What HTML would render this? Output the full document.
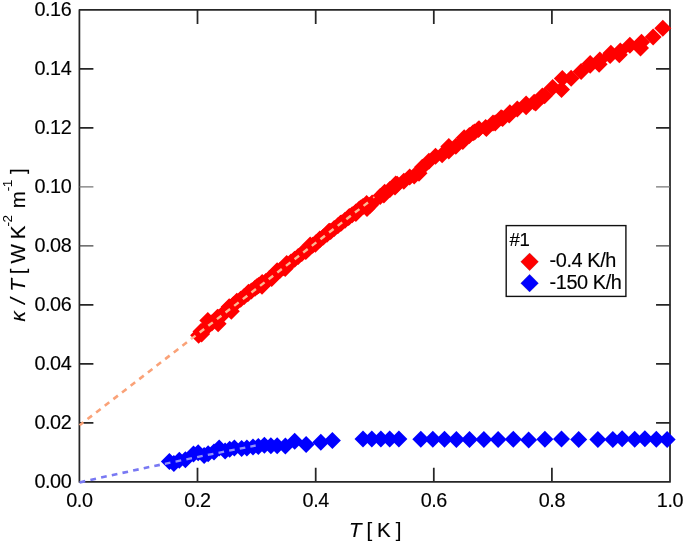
<!DOCTYPE html>
<html><head><meta charset="utf-8"><title>plot</title>
<style>html,body{margin:0;padding:0;background:#fff;}body{width:685px;height:543px;position:relative;overflow:hidden}svg text{font-family:"Liberation Sans",sans-serif;}</style>
</head><body>
<svg width="685" height="543" viewBox="0 0 685 543" style="display:block;position:absolute;left:0;top:0">
<rect width="685" height="543" fill="#fff"/>
<g stroke="#262626" stroke-width="1.75" stroke-linejoin="round" fill="none">
<rect x="79.4" y="9.9" width="590.6" height="472.0"/>
<path d="M197.5 481.85V467.85M197.5 9.9V23.9"/>
<path d="M315.7 481.85V467.85M315.7 9.9V23.9"/>
<path d="M433.8 481.85V467.85M433.8 9.9V23.9"/>
<path d="M551.9 481.85V467.85M551.9 9.9V23.9"/>
<path d="M79.4 422.9H93.4M670.05 422.9H656.05"/>
<path d="M79.4 363.9H93.4M670.05 363.9H656.05"/>
<path d="M79.4 304.9H93.4M670.05 304.9H656.05"/>
<path d="M79.4 245.9H93.4M670.05 245.9H656.05" stroke="#444" stroke-width="1.4"/>
<path d="M79.4 186.9H93.4M670.05 186.9H656.05" stroke="#777" stroke-width="1.1"/>
<path d="M79.4 127.9H93.4M670.05 127.9H656.05"/>
<path d="M79.4 68.9H93.4M670.05 68.9H656.05"/>
</g>
<g>
<path d="M192.5 331.5L201.0 323.0L209.5 331.5L201.0 340.0Z" fill="#ff0000"/>
<path d="M196.1 328.7L204.6 320.2L213.1 328.7L204.6 337.2Z" fill="#ff0000"/>
<path d="M199.7 325.9L208.2 317.4L216.7 325.9L208.2 334.4Z" fill="#ff0000"/>
<path d="M203.3 323.1L211.8 314.6L220.3 323.1L211.8 331.6Z" fill="#ff0000"/>
<path d="M206.9 320.3L215.4 311.8L223.9 320.3L215.4 328.8Z" fill="#ff0000"/>
<path d="M210.5 317.6L219.0 309.1L227.5 317.6L219.0 326.1Z" fill="#ff0000"/>
<path d="M214.1 314.8L222.6 306.3L231.1 314.8L222.6 323.3Z" fill="#ff0000"/>
<path d="M217.7 310.4L226.2 301.9L234.7 310.4L226.2 318.9Z" fill="#ff0000"/>
<path d="M221.3 307.6L229.8 299.1L238.3 307.6L229.8 316.1Z" fill="#ff0000"/>
<path d="M224.9 304.8L233.4 296.3L241.9 304.8L233.4 313.3Z" fill="#ff0000"/>
<path d="M228.5 302.1L237.0 293.6L245.5 302.1L237.0 310.6Z" fill="#ff0000"/>
<path d="M232.1 299.3L240.6 290.8L249.1 299.3L240.6 307.8Z" fill="#ff0000"/>
<path d="M235.7 296.5L244.2 288.0L252.7 296.5L244.2 305.0Z" fill="#ff0000"/>
<path d="M239.3 293.7L247.8 285.2L256.3 293.7L247.8 302.2Z" fill="#ff0000"/>
<path d="M242.9 290.9L251.4 282.4L259.9 290.9L251.4 299.4Z" fill="#ff0000"/>
<path d="M246.5 288.2L255.0 279.7L263.5 288.2L255.0 296.7Z" fill="#ff0000"/>
<path d="M250.1 285.4L258.6 276.9L267.1 285.4L258.6 293.9Z" fill="#ff0000"/>
<path d="M253.7 282.6L262.2 274.1L270.7 282.6L262.2 291.1Z" fill="#ff0000"/>
<path d="M257.3 281.4L265.8 272.9L274.3 281.4L265.8 289.9Z" fill="#ff0000"/>
<path d="M260.9 278.6L269.4 270.1L277.9 278.6L269.4 287.1Z" fill="#ff0000"/>
<path d="M264.5 275.9L273.0 267.4L281.5 275.9L273.0 284.4Z" fill="#ff0000"/>
<path d="M268.1 273.1L276.6 264.6L285.1 273.1L276.6 281.6Z" fill="#ff0000"/>
<path d="M271.7 270.3L280.2 261.8L288.7 270.3L280.2 278.8Z" fill="#ff0000"/>
<path d="M275.3 267.5L283.8 259.0L292.3 267.5L283.8 276.0Z" fill="#ff0000"/>
<path d="M278.9 264.7L287.4 256.2L295.9 264.7L287.4 273.2Z" fill="#ff0000"/>
<path d="M282.5 262.0L291.0 253.5L299.5 262.0L291.0 270.5Z" fill="#ff0000"/>
<path d="M286.1 259.2L294.6 250.7L303.1 259.2L294.6 267.7Z" fill="#ff0000"/>
<path d="M289.7 256.4L298.2 247.9L306.7 256.4L298.2 264.9Z" fill="#ff0000"/>
<path d="M293.3 253.6L301.8 245.1L310.3 253.6L301.8 262.1Z" fill="#ff0000"/>
<path d="M296.9 250.8L305.4 242.3L313.9 250.8L305.4 259.3Z" fill="#ff0000"/>
<path d="M300.5 248.1L309.0 239.6L317.5 248.1L309.0 256.6Z" fill="#ff0000"/>
<path d="M304.1 245.3L312.6 236.8L321.1 245.3L312.6 253.8Z" fill="#ff0000"/>
<path d="M307.7 242.5L316.2 234.0L324.7 242.5L316.2 251.0Z" fill="#ff0000"/>
<path d="M311.3 239.7L319.8 231.2L328.3 239.7L319.8 248.2Z" fill="#ff0000"/>
<path d="M314.9 236.9L323.4 228.4L331.9 236.9L323.4 245.4Z" fill="#ff0000"/>
<path d="M318.5 234.2L327.0 225.7L335.5 234.2L327.0 242.7Z" fill="#ff0000"/>
<path d="M322.1 231.4L330.6 222.9L339.1 231.4L330.6 239.9Z" fill="#ff0000"/>
<path d="M325.7 228.6L334.2 220.1L342.7 228.6L334.2 237.1Z" fill="#ff0000"/>
<path d="M329.3 225.8L337.8 217.3L346.3 225.8L337.8 234.3Z" fill="#ff0000"/>
<path d="M332.9 223.0L341.4 214.5L349.9 223.0L341.4 231.5Z" fill="#ff0000"/>
<path d="M336.5 220.3L345.0 211.8L353.5 220.3L345.0 228.8Z" fill="#ff0000"/>
<path d="M340.1 217.5L348.6 209.0L357.1 217.5L348.6 226.0Z" fill="#ff0000"/>
<path d="M343.7 214.7L352.2 206.2L360.7 214.7L352.2 223.2Z" fill="#ff0000"/>
<path d="M347.3 211.9L355.8 203.4L364.3 211.9L355.8 220.4Z" fill="#ff0000"/>
<path d="M350.9 209.1L359.4 200.6L367.9 209.1L359.4 217.6Z" fill="#ff0000"/>
<path d="M354.5 206.4L363.0 197.9L371.5 206.4L363.0 214.9Z" fill="#ff0000"/>
<path d="M358.1 203.6L366.6 195.1L375.1 203.6L366.6 212.1Z" fill="#ff0000"/>
<path d="M361.7 205.3L370.2 196.8L378.7 205.3L370.2 213.8Z" fill="#ff0000"/>
<path d="M381.4 189.6L389.9 181.1L398.4 189.6L389.9 198.1Z" fill="#ff0000"/>
<path d="M447.3 146.2L455.8 137.7L464.3 146.2L455.8 154.7Z" fill="#ff0000"/>
<path d="M190.1 335.3L198.6 326.8L207.1 335.3L198.6 343.8Z" fill="#ff0000"/>
<path d="M193.1 334.0L201.6 325.5L210.1 334.0L201.6 342.5Z" fill="#ff0000"/>
<path d="M199.3 320.6L207.8 312.1L216.3 320.6L207.8 329.1Z" fill="#ff0000"/>
<path d="M209.0 317.2L217.5 308.7L226.0 317.2L217.5 325.7Z" fill="#ff0000"/>
<path d="M209.6 323.7L218.1 315.2L226.6 323.7L218.1 332.2Z" fill="#ff0000"/>
<path d="M222.8 311.2L231.3 302.7L239.8 311.2L231.3 319.7Z" fill="#ff0000"/>
<path d="M268.6 270.8L277.1 262.3L285.6 270.8L277.1 279.3Z" fill="#ff0000"/>
<path d="M278.2 263.4L286.7 254.9L295.2 263.4L286.7 271.9Z" fill="#ff0000"/>
<path d="M276.7 268.5L285.2 260.0L293.7 268.5L285.2 277.0Z" fill="#ff0000"/>
<path d="M297.3 251.6L305.8 243.1L314.3 251.6L305.8 260.1Z" fill="#ff0000"/>
<path d="M301.7 245.0L310.2 236.5L318.7 245.0L310.2 253.5Z" fill="#ff0000"/>
<path d="M306.9 244.2L315.4 235.7L323.9 244.2L315.4 252.7Z" fill="#ff0000"/>
<path d="M311.3 239.1L319.8 230.6L328.3 239.1L319.8 247.6Z" fill="#ff0000"/>
<path d="M320.2 231.8L328.7 223.3L337.2 231.8L328.7 240.3Z" fill="#ff0000"/>
<path d="M320.9 231.3L329.4 222.8L337.9 231.3L329.4 239.8Z" fill="#ff0000"/>
<path d="M332.0 223.2L340.5 214.7L349.0 223.2L340.5 231.7Z" fill="#ff0000"/>
<path d="M340.8 216.5L349.3 208.0L357.8 216.5L349.3 225.0Z" fill="#ff0000"/>
<path d="M347.4 213.5L355.9 205.0L364.4 213.5L355.9 222.0Z" fill="#ff0000"/>
<path d="M352.6 207.7L361.1 199.2L369.6 207.7L361.1 216.2Z" fill="#ff0000"/>
<path d="M358.5 208.4L367.0 199.9L375.5 208.4L367.0 216.9Z" fill="#ff0000"/>
<path d="M363.6 203.0L372.1 194.5L380.6 203.0L372.1 211.5Z" fill="#ff0000"/>
<path d="M371.7 196.6L380.2 188.1L388.7 196.6L380.2 205.1Z" fill="#ff0000"/>
<path d="M375.4 195.1L383.9 186.6L392.4 195.1L383.9 203.6Z" fill="#ff0000"/>
<path d="M376.2 192.2L384.7 183.7L393.2 192.2L384.7 200.7Z" fill="#ff0000"/>
<path d="M386.5 187.0L395.0 178.5L403.5 187.0L395.0 195.5Z" fill="#ff0000"/>
<path d="M387.2 184.1L395.7 175.6L404.2 184.1L395.7 192.6Z" fill="#ff0000"/>
<path d="M395.3 181.2L403.8 172.7L412.3 181.2L403.8 189.7Z" fill="#ff0000"/>
<path d="M388.7 184.2L397.2 175.7L405.7 184.2L397.2 192.7Z" fill="#ff0000"/>
<path d="M401.2 176.9L409.7 168.4L418.2 176.9L409.7 185.4Z" fill="#ff0000"/>
<path d="M405.7 176.1L414.2 167.6L422.7 176.1L414.2 184.6Z" fill="#ff0000"/>
<path d="M413.8 167.3L422.3 158.8L430.8 167.3L422.3 175.8Z" fill="#ff0000"/>
<path d="M420.4 161.3L428.9 152.8L437.4 161.3L428.9 169.8Z" fill="#ff0000"/>
<path d="M427.0 156.2L435.5 147.7L444.0 156.2L435.5 164.7Z" fill="#ff0000"/>
<path d="M433.6 154.7L442.1 146.2L450.6 154.7L442.1 163.2Z" fill="#ff0000"/>
<path d="M440.3 146.6L448.8 138.1L457.3 146.6L448.8 155.1Z" fill="#ff0000"/>
<path d="M440.3 151.0L448.8 142.5L457.3 151.0L448.8 159.5Z" fill="#ff0000"/>
<path d="M454.3 141.4L462.8 132.9L471.3 141.4L462.8 149.9Z" fill="#ff0000"/>
<path d="M455.7 137.8L464.2 129.3L472.7 137.8L464.2 146.3Z" fill="#ff0000"/>
<path d="M464.6 132.7L473.1 124.2L481.6 132.7L473.1 141.2Z" fill="#ff0000"/>
<path d="M466.1 131.9L474.6 123.4L483.1 131.9L474.6 140.4Z" fill="#ff0000"/>
<path d="M460.9 135.5L469.4 127.0L477.9 135.5L469.4 144.0Z" fill="#ff0000"/>
<path d="M469.8 129.6L478.3 121.1L486.8 129.6L478.3 138.1Z" fill="#ff0000"/>
<path d="M470.5 128.8L479.0 120.3L487.5 128.8L479.0 137.3Z" fill="#ff0000"/>
<path d="M477.1 127.4L485.6 118.9L494.1 127.4L485.6 135.9Z" fill="#ff0000"/>
<path d="M477.9 128.6L486.4 120.1L494.9 128.6L486.4 137.1Z" fill="#ff0000"/>
<path d="M484.5 123.0L493.0 114.5L501.5 123.0L493.0 131.5Z" fill="#ff0000"/>
<path d="M486.7 123.0L495.2 114.5L503.7 123.0L495.2 131.5Z" fill="#ff0000"/>
<path d="M492.6 117.8L501.1 109.3L509.6 117.8L501.1 126.3Z" fill="#ff0000"/>
<path d="M494.1 118.6L502.6 110.1L511.1 118.6L502.6 127.1Z" fill="#ff0000"/>
<path d="M500.7 114.9L509.2 106.4L517.7 114.9L509.2 123.4Z" fill="#ff0000"/>
<path d="M501.4 112.7L509.9 104.2L518.4 112.7L509.9 121.2Z" fill="#ff0000"/>
<path d="M508.8 109.0L517.3 100.5L525.8 109.0L517.3 117.5Z" fill="#ff0000"/>
<path d="M517.6 103.9L526.1 95.4L534.6 103.9L526.1 112.4Z" fill="#ff0000"/>
<path d="M517.6 106.7L526.1 98.2L534.6 106.7L526.1 115.2Z" fill="#ff0000"/>
<path d="M525.7 102.3L534.2 93.8L542.7 102.3L534.2 110.8Z" fill="#ff0000"/>
<path d="M527.2 103.1L535.7 94.6L544.2 103.1L535.7 111.6Z" fill="#ff0000"/>
<path d="M536.1 95.8L544.6 87.3L553.1 95.8L544.6 104.3Z" fill="#ff0000"/>
<path d="M533.9 95.9L542.4 87.4L550.9 95.9L542.4 104.4Z" fill="#ff0000"/>
<path d="M544.2 87.6L552.7 79.1L561.2 87.6L552.7 96.1Z" fill="#ff0000"/>
<path d="M553.0 89.4L561.5 80.9L570.0 89.4L561.5 97.9Z" fill="#ff0000"/>
<path d="M553.8 78.5L562.3 70.0L570.8 78.5L562.3 87.0Z" fill="#ff0000"/>
<path d="M562.6 78.3L571.1 69.8L579.6 78.3L571.1 86.8Z" fill="#ff0000"/>
<path d="M572.6 71.4L581.1 62.9L589.6 71.4L581.1 79.9Z" fill="#ff0000"/>
<path d="M581.7 65.2L590.2 56.7L598.7 65.2L590.2 73.7Z" fill="#ff0000"/>
<path d="M581.7 63.6L590.2 55.1L598.7 63.6L590.2 72.1Z" fill="#ff0000"/>
<path d="M590.6 64.3L599.1 55.8L607.6 64.3L599.1 72.8Z" fill="#ff0000"/>
<path d="M591.3 60.0L599.8 51.5L608.3 60.0L599.8 68.5Z" fill="#ff0000"/>
<path d="M601.6 55.6L610.1 47.1L618.6 55.6L610.1 64.1Z" fill="#ff0000"/>
<path d="M602.4 53.3L610.9 44.8L619.4 53.3L610.9 61.8Z" fill="#ff0000"/>
<path d="M610.8 54.7L619.3 46.2L627.8 54.7L619.3 63.2Z" fill="#ff0000"/>
<path d="M611.8 51.0L620.3 42.5L628.8 51.0L620.3 59.5Z" fill="#ff0000"/>
<path d="M621.4 45.2L629.9 36.7L638.4 45.2L629.9 53.7Z" fill="#ff0000"/>
<path d="M632.0 47.9L640.5 39.4L649.0 47.9L640.5 56.4Z" fill="#ff0000"/>
<path d="M633.0 42.3L641.5 33.8L650.0 42.3L641.5 50.8Z" fill="#ff0000"/>
<path d="M644.6 36.9L653.1 28.4L661.6 36.9L653.1 45.4Z" fill="#ff0000"/>
<path d="M654.3 28.2L662.8 19.7L671.3 28.2L662.8 36.7Z" fill="#ff0000"/>
<path d="M410.5 173.2L419.0 164.7L427.5 173.2L419.0 181.7Z" fill="#ff0000"/>
<path d="M220.7 306.8L229.2 298.3L237.7 306.8L229.2 315.3Z" fill="#ff0000"/>
<path d="M228.3 301.3L236.8 292.8L245.3 301.3L236.8 309.8Z" fill="#ff0000"/>
<path d="M240.0 292.3L248.5 283.8L257.0 292.3L248.5 300.8Z" fill="#ff0000"/>
<path d="M248.3 286.8L256.8 278.3L265.3 286.8L256.8 295.3Z" fill="#ff0000"/>
<path d="M263.2 278.5L271.7 270.0L280.2 278.5L271.7 287.0Z" fill="#ff0000"/>
<path d="M253.5 286.3L262.0 277.8L270.5 286.3L262.0 294.8Z" fill="#ff0000"/>
<path d="M160.9 461.4L169.4 452.9L177.9 461.4L169.4 469.9Z" fill="#0000ff"/>
<path d="M165.4 463.4L173.9 454.9L182.4 463.4L173.9 471.9Z" fill="#0000ff"/>
<path d="M170.8 460.3L179.3 451.8L187.8 460.3L179.3 468.8Z" fill="#0000ff"/>
<path d="M176.9 459.7L185.4 451.2L193.9 459.7L185.4 468.2Z" fill="#0000ff"/>
<path d="M185.0 454.0L193.5 445.5L202.0 454.0L193.5 462.5Z" fill="#0000ff"/>
<path d="M189.7 452.8L198.2 444.3L206.7 452.8L198.2 461.3Z" fill="#0000ff"/>
<path d="M195.6 455.6L204.1 447.1L212.6 455.6L204.1 464.1Z" fill="#0000ff"/>
<path d="M199.6 453.7L208.1 445.2L216.6 453.7L208.1 462.2Z" fill="#0000ff"/>
<path d="M205.5 452.1L214.0 443.6L222.5 452.1L214.0 460.6Z" fill="#0000ff"/>
<path d="M210.7 448.1L219.2 439.6L227.7 448.1L219.2 456.6Z" fill="#0000ff"/>
<path d="M216.6 450.9L225.1 442.4L233.6 450.9L225.1 459.4Z" fill="#0000ff"/>
<path d="M221.2 449.3L229.7 440.8L238.2 449.3L229.7 457.8Z" fill="#0000ff"/>
<path d="M225.9 447.9L234.4 439.4L242.9 447.9L234.4 456.4Z" fill="#0000ff"/>
<path d="M233.1 448.4L241.6 439.9L250.1 448.4L241.6 456.9Z" fill="#0000ff"/>
<path d="M238.4 447.9L246.9 439.4L255.4 447.9L246.9 456.4Z" fill="#0000ff"/>
<path d="M244.5 447.0L253.0 438.5L261.5 447.0L253.0 455.5Z" fill="#0000ff"/>
<path d="M249.8 446.5L258.3 438.0L266.8 446.5L258.3 455.0Z" fill="#0000ff"/>
<path d="M255.9 445.3L264.4 436.8L272.9 445.3L264.4 453.8Z" fill="#0000ff"/>
<path d="M262.4 445.8L270.9 437.3L279.4 445.8L270.9 454.3Z" fill="#0000ff"/>
<path d="M268.7 445.8L277.2 437.3L285.7 445.8L277.2 454.3Z" fill="#0000ff"/>
<path d="M276.9 446.1L285.4 437.6L293.9 446.1L285.4 454.6Z" fill="#0000ff"/>
<path d="M286.2 441.3L294.7 432.8L303.2 441.3L294.7 449.8Z" fill="#0000ff"/>
<path d="M297.6 444.4L306.1 435.9L314.6 444.4L306.1 452.9Z" fill="#0000ff"/>
<path d="M312.3 442.2L320.8 433.7L329.3 442.2L320.8 450.7Z" fill="#0000ff"/>
<path d="M323.9 440.4L332.4 431.9L340.9 440.4L332.4 448.9Z" fill="#0000ff"/>
<path d="M354.5 438.9L363.0 430.4L371.5 438.9L363.0 447.4Z" fill="#0000ff"/>
<path d="M363.3 438.9L371.8 430.4L380.3 438.9L371.8 447.4Z" fill="#0000ff"/>
<path d="M372.4 438.9L380.9 430.4L389.4 438.9L380.9 447.4Z" fill="#0000ff"/>
<path d="M381.2 438.9L389.7 430.4L398.2 438.9L389.7 447.4Z" fill="#0000ff"/>
<path d="M390.4 438.9L398.9 430.4L407.4 438.9L398.9 447.4Z" fill="#0000ff"/>
<path d="M412.3 439.3L420.8 430.8L429.3 439.3L420.8 447.8Z" fill="#0000ff"/>
<path d="M424.3 439.3L432.8 430.8L441.3 439.3L432.8 447.8Z" fill="#0000ff"/>
<path d="M436.0 439.3L444.5 430.8L453.0 439.3L444.5 447.8Z" fill="#0000ff"/>
<path d="M447.9 439.6L456.4 431.1L464.9 439.6L456.4 448.1Z" fill="#0000ff"/>
<path d="M461.0 439.6L469.5 431.1L478.0 439.6L469.5 448.1Z" fill="#0000ff"/>
<path d="M475.4 439.6L483.9 431.1L492.4 439.6L483.9 448.1Z" fill="#0000ff"/>
<path d="M489.6 439.6L498.1 431.1L506.6 439.6L498.1 448.1Z" fill="#0000ff"/>
<path d="M504.8 439.3L513.3 430.8L521.8 439.3L513.3 447.8Z" fill="#0000ff"/>
<path d="M520.1 439.9L528.6 431.4L537.1 439.9L528.6 448.4Z" fill="#0000ff"/>
<path d="M536.4 439.3L544.9 430.8L553.4 439.3L544.9 447.8Z" fill="#0000ff"/>
<path d="M553.0 439.1L561.5 430.6L570.0 439.1L561.5 447.6Z" fill="#0000ff"/>
<path d="M570.2 439.6L578.7 431.1L587.2 439.6L578.7 448.1Z" fill="#0000ff"/>
<path d="M589.4 439.6L597.9 431.1L606.4 439.6L597.9 448.1Z" fill="#0000ff"/>
<path d="M604.3 439.6L612.8 431.1L621.3 439.6L612.8 448.1Z" fill="#0000ff"/>
<path d="M613.6 438.7L622.1 430.2L630.6 438.7L622.1 447.2Z" fill="#0000ff"/>
<path d="M626.2 439.2L634.7 430.7L643.2 439.2L634.7 447.7Z" fill="#0000ff"/>
<path d="M636.4 438.7L644.9 430.2L653.4 438.7L644.9 447.2Z" fill="#0000ff"/>
<path d="M647.8 439.2L656.3 430.7L664.8 439.2L656.3 447.7Z" fill="#0000ff"/>
<path d="M658.6 439.6L667.1 431.1L675.6 439.6L667.1 448.1Z" fill="#0000ff"/>
</g>
<defs><clipPath id="cw1"><rect x="0" y="0" width="191.5" height="543"/></clipPath><clipPath id="cr1"><rect x="191.5" y="0" width="500" height="543"/></clipPath><clipPath id="cw2"><rect x="0" y="0" width="162.5" height="543"/></clipPath><clipPath id="cr2"><rect x="162.5" y="0" width="500" height="543"/></clipPath></defs>
<g fill="none" stroke-width="2.6" stroke-dasharray="5.7 5.2" stroke-dashoffset="0.9">
<path d="M79.6 425.2L368 202.5" stroke="#faa278" clip-path="url(#cw1)"/>
<path d="M79.6 425.2L368 202.5" stroke="#fbb994" stroke-width="2.4" clip-path="url(#cr1)"/>
</g>
<g fill="none" stroke-width="2.6" stroke-dasharray="5.7 5.2">
<path d="M79.6 482.4Q169.9 462 255.7 445.5" stroke="#7979f3" clip-path="url(#cw2)"/>
<path d="M79.6 482.4Q169.9 462 255.7 445.5" stroke="#9292f8" stroke-width="2.3" clip-path="url(#cr2)"/>
</g>
<path d="M373.2 197.9L374.4 196.9" stroke="#fbb48e" stroke-width="1.6" fill="none"/>
<g font-size="19.8" letter-spacing="-0.02em" fill="#000" stroke="#000" stroke-width="0.15">
<text x="71.3" y="488.2" text-anchor="end">0.00</text>
<text x="71.3" y="429.2" text-anchor="end">0.02</text>
<text x="71.3" y="370.2" text-anchor="end">0.04</text>
<text x="71.3" y="311.2" text-anchor="end">0.06</text>
<text x="71.3" y="252.2" text-anchor="end">0.08</text>
<text x="71.3" y="193.2" text-anchor="end">0.10</text>
<text x="71.3" y="134.2" text-anchor="end">0.12</text>
<text x="71.3" y="75.2" text-anchor="end">0.14</text>
<text x="71.3" y="16.2" text-anchor="end">0.16</text>
<text x="79.4" y="507" text-anchor="middle">0.0</text>
<text x="197.5" y="507" text-anchor="middle">0.2</text>
<text x="315.7" y="507" text-anchor="middle">0.4</text>
<text x="433.8" y="507" text-anchor="middle">0.6</text>
<text x="551.9" y="507" text-anchor="middle">0.8</text>
<text x="670.0" y="507" text-anchor="middle">1.0</text>
<text x="375" y="536.8" text-anchor="middle" font-size="20.5"><tspan font-style="italic">T</tspan> [ K ]</text>
<g transform="translate(25.3,0) rotate(-90)" font-size="20.5">
<text x="-321.6" y="0" font-style="italic">κ</text>
<text x="-303.8" y="0" font-style="italic">/</text>
<text x="-291.6" y="0"><tspan font-style="italic">T</tspan> [ W K</text>
<text x="-226.6" y="-13.8" font-size="13.6" stroke="none">-2</text>
<text x="-208.3" y="0">m</text>
<text x="-191.3" y="-13.8" font-size="13.6" stroke="none">-1</text>
<text x="-174.1" y="0">]</text>
</g>
<rect x="506.2" y="225.6" width="119.7" height="70.8" fill="#fff" stroke="#111" stroke-width="1.4"/>
<text x="509.5" y="246.2" font-size="18.6">#1</text>
<path d="M520.7 261.8L529.6 252.9L538.5 261.8L529.6 270.7Z" fill="#ff0000"/>
<path d="M520.7 283.2L529.6 274.3L538.5 283.2L529.6 292.1Z" fill="#0000ff"/>
<text x="549.5" y="267.2" font-size="19.9">-0.4 K/h</text>
<text x="549.5" y="288.6" font-size="19.9">-150 K/h</text>
</g>
</svg>
</body></html>
